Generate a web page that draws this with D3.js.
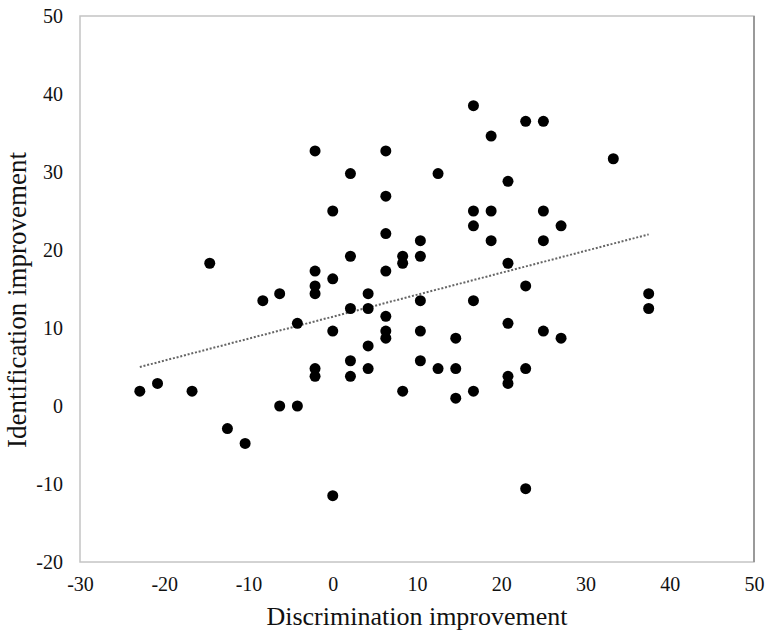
<!DOCTYPE html>
<html>
<head>
<meta charset="utf-8">
<script src="https://cdn.jsdelivr.net/npm/d3@7"></script>
<style>
  html, body { margin: 0; padding: 0; background: #fff; }
  svg { display: block; }
  text { font-family: "Liberation Serif", "Times New Roman", serif; fill: #111; }
</style>
</head>
<body>
<svg id="chart" width="765" height="630"></svg>
<script>
const discrimination = [
  -22.9, -20.8, -16.7, -14.6, -12.5, -10.4, -8.3, -6.3, -6.3, -4.2,
  -4.2, -2.1, -2.1, -2.1, -2.1, -2.1, -2.1, 0, 0, 0,
  0, 2.1, 2.1, 2.1, 2.1, 2.1, 4.2, 4.2, 4.2, 4.2,
  6.3, 6.3, 6.3, 6.3, 6.3, 6.3, 6.3, 8.3, 8.3, 8.3,
  10.4, 10.4, 10.4, 10.4, 10.4, 12.5, 12.5, 14.6, 14.6, 14.6,
  16.7, 16.7, 16.7, 16.7, 16.7, 18.8, 18.8, 18.8, 20.8, 20.8,
  20.8, 20.8, 20.8, 22.9, 22.9, 22.9, 22.9, 25.0, 25.0, 25.0,
  25.0, 27.1, 27.1, 33.3, 37.5, 37.5
];
const identification = [
  1.9, 2.9, 1.9, 18.3, -2.9, -4.8, 13.5, 14.4, 0, 0,
  10.6, 32.7, 17.3, 15.4, 14.4, 4.8, 3.8, 25.0, 16.3, 9.6,
  -11.5, 29.8, 19.2, 12.5, 5.8, 3.8, 14.4, 12.5, 7.7, 4.8,
  32.7, 26.9, 22.1, 17.3, 11.5, 9.6, 8.7, 19.2, 18.3, 1.9,
  21.2, 19.2, 13.5, 9.6, 5.8, 29.8, 4.8, 8.7, 4.8, 1.0,
  38.5, 25.0, 23.1, 13.5, 1.9, 34.6, 25.0, 21.2, 28.8, 18.3,
  10.6, 3.8, 2.9, 36.5, 15.4, 4.8, -10.6, 36.5, 25.0, 21.2,
  9.6, 23.1, 8.7, 31.7, 14.4, 12.5
];
const trendX = [-22.9, 37.5];
const trendY = [5.0, 22.0];
const xTicks = [-30, -20, -10, 0, 10, 20, 30, 40, 50];
const yTicks = [-20, -10, 0, 10, 20, 30, 40, 50];
const xTitle = "Discrimination improvement";
const yTitle = "Identification improvement";

const svg = d3.select("#chart");
const pLeft = 80, pRight = 754, pTop = 16, pBottom = 562;
const serif = '"Liberation Serif", "Times New Roman", serif';

const x = d3.scaleLinear().domain([-30, 50]).range([pLeft, pRight]);
const y = d3.scaleLinear().domain([-20, 50]).range([pBottom, pTop]);

// frame
svg.append("rect")
  .attr("x", pLeft).attr("y", pTop)
  .attr("width", pRight - pLeft).attr("height", pBottom - pTop)
  .attr("fill", "none").attr("stroke", "#c4c4c4").attr("stroke-width", 1.5);
svg.append("line")
  .attr("x1", pRight).attr("x2", pRight).attr("y1", pTop).attr("y2", pBottom)
  .attr("stroke", "#9a9a9a").attr("stroke-width", 2);

const fmt = d => String(d);

// axes
const xAxis = svg.append("g")
  .attr("transform", `translate(0,${pBottom})`)
  .call(d3.axisBottom(x).tickValues(xTicks).tickSize(0).tickPadding(15).tickFormat(fmt))
  .attr("font-family", serif).attr("font-size", 20);
xAxis.select(".domain").remove();
xAxis.selectAll("text").style("font-family", serif).style("font-size", "20px").attr("fill", "#111");

const yAxis = svg.append("g")
  .attr("transform", `translate(${pLeft},0)`)
  .call(d3.axisLeft(y).tickValues(yTicks).tickSize(0).tickPadding(17).tickFormat(fmt))
  .attr("font-family", serif).attr("font-size", 20);
yAxis.select(".domain").remove();
yAxis.selectAll("text").style("font-family", serif).style("font-size", "20px").attr("fill", "#111");

// trendline
svg.append("line")
  .attr("x1", x(trendX[0])).attr("y1", y(trendY[0]))
  .attr("x2", x(trendX[1])).attr("y2", y(trendY[1]))
  .attr("stroke", "#666").attr("stroke-width", 2)
  .attr("stroke-dasharray", "2,1.8");

// points
svg.append("g").selectAll("circle")
  .data(discrimination.map((d, i) => [d, identification[i]]))
  .join("circle")
  .attr("cx", d => x(d[0]))
  .attr("cy", d => y(d[1]))
  .attr("r", 5.5)
  .attr("fill", "#000");

// titles
svg.append("text")
  .attr("x", (pLeft + pRight) / 2).attr("y", 625)
  .attr("text-anchor", "middle")
  .style("font-family", serif)
  .style("font-size", "26px").attr("fill", "#222")
  .text(xTitle);

svg.append("text")
  .attr("transform", `translate(26,300) rotate(-90)`)
  .attr("text-anchor", "middle")
  .style("font-family", serif)
  .style("font-size", "27px").attr("fill", "#222")
  .text(yTitle);
</script>
</body>
</html>
